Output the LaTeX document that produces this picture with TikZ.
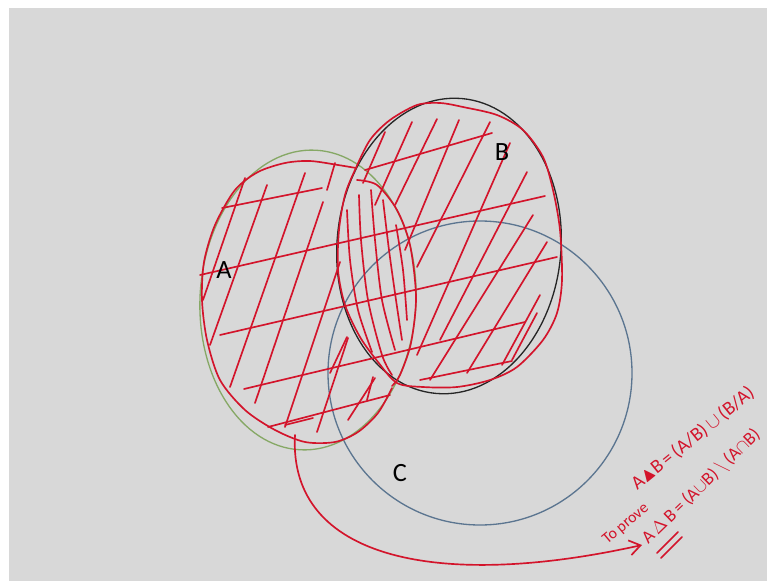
\documentclass[tikz,border=0pt]{standalone}
\usepackage{amssymb}
\usepackage{fontspec}
\setmainfont{Carlito}
\usetikzlibrary{arrows.meta}
\definecolor{BoardGray}{HTML}{D8D8D8}
\definecolor{PenRed}{HTML}{D3142B}
\definecolor{SetGreen}{HTML}{86A865}
\definecolor{SetBlack}{HTML}{262626}
\definecolor{SetBlue}{HTML}{5B7590}
\tikzset{every node/.style={font=\fontsize{15}{17}\selectfont}}
\tikzset{hatch/.style={PenRed,line width=0.95pt,line cap=round,line join=round},
  rim/.style={line width=0.75pt},
  pen/.style={PenRed,inner sep=0pt,font=\fontsize{11}{13}\selectfont}}

\begin{document}
\begin{tikzpicture}[x=0.02cm,y=-0.02cm]
  % --- board ---
  \useasboundingbox (0,0) rectangle (767,581);
  \fill[white] (0,0) rectangle (767,581);
  \fill[BoardGray] (9,8) rectangle (767,581);
  % --- the three sets ---
  \draw[rim,SetBlue] (480,373) circle (152);
  \draw[rim,SetGreen,rotate around={-3:(308,300)}] (308,300) ellipse [x radius=108, y radius=150];
  \draw[rim,SetBlack,rotate around={-5:(449,246)}] (449,246) ellipse [x radius=112, y radius=148];
  % --- red outline of A and B ---
  \draw[hatch] plot[smooth] coordinates {(356,168) (338,165) (310,161) (285,163) (258,172) (235,190)
    (215,225) (204,262) (202,300) (207,340) (220,380) (245,410) (275,430) (305,442) (335,442)
    (358,432) (378,413) (392,388)};
  \draw[hatch] plot[smooth cycle] coordinates {(355,170) (370,140) (390,120) (417,105) (440,103)
    (463,107) (497,115) (523,130) (543,157) (553,190) (560,230) (562,280) (557,313) (543,340)
    (517,367) (490,380) (457,387) (423,387) (397,383) (378,362) (360,337) (345,305) (338,270)
    (339,230) (345,195)};
  % --- lens of A and B ---
  \draw[hatch] plot[smooth] coordinates {(357,180) (377,185) (397,210) (410,245) (416,297) (411,343) (400,375) (392,386)};
  \draw[hatch] plot[smooth] coordinates {(347,210) (350,260) (358,310) (372,352)};
  \draw[hatch] plot[smooth] coordinates {(359,195) (361,240) (368,300) (382,355) (392,375)};
  \draw[hatch] plot[smooth] coordinates {(371,190) (375,240) (382,300) (395,350)};
  \draw[hatch] plot[smooth] coordinates {(383,200) (389,250) (396,300) (402,340)};
  \draw[hatch] plot[smooth] coordinates {(396,225) (403,270) (407,320)};
  % --- flat strokes ---
  \foreach \xa/\ya/\xb/\yb in {222/208/322/188, 200/275/545/196, 220/335/557/257,
      244/389/525/322, 268/427/390/395, 285/425/313/418, 420/380/512/361, 365/170/492/133}
    \draw[hatch] (\xa,\ya) -- (\xb,\yb);
  % --- steep strokes ---
  \foreach \xa/\ya/\xb/\yb in {245/178/203/300, 267/185/210/345, 305/173/230/387,
      323/202/255/403, 340/262/285/427, 348/338/317/432, 375/378/348/420, 327/190/335/163,
      385/132/363/183, 412/122/375/205, 437/119/395/205, 459/120/405/250, 490/122/417/267,
      510/143/417/355, 527/172/440/340, 533/215/430/380, 547/242/467/373, 540/295/502/365,
      537/313/512/360, 347/337/330/373, 373/377/367/400}
    \draw[hatch] (\xa,\ya) -- (\xb,\yb);
  % --- set names ---
  \node (labA) at (224,270) {A};
  \node (labB) at (502,152) {B};
  \node (labC) at (400,473) {C};
  % --- the claim ---
  \node[pen,rotate=39,anchor=base west] (symdef) at (637,491)
    {A$\blacktriangle$B\,=\,(A/B)\,$\cup$\,(B/A)};
  \node[pen,font=\fontsize{10.3}{12}\selectfont,rotate=44,anchor=base west] (goal) at (648,545)
    {A\,$\Delta$\,B\,=\,(A$\cup$B)\,$\setminus$\,(A$\cap$B)};
  \node[pen,font=\fontsize{9}{10}\selectfont,rotate=40,anchor=base west] (toprove) at (607,545) {To prove};
  \draw[hatch] (657,553) -- (678,532);
  \draw[hatch] (661,558) -- (682,537);
  % --- arrow to the claim ---
  \coordinate (tail) at (295,435);
  \coordinate (tip) at (642,545);
  \draw[hatch,-{Straight Barb[length=2.2mm,width=3mm]}] (tail) .. controls (288,560) and (440,590) .. (tip);
\end{tikzpicture}
\end{document}
